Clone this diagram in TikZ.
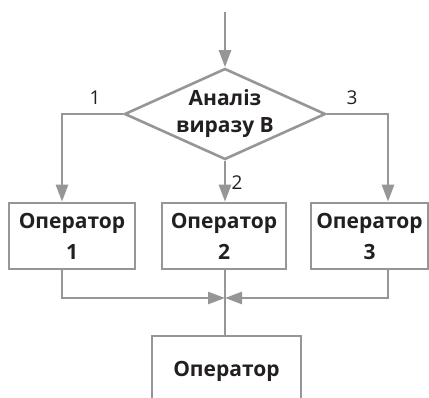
\documentclass[tikz,border=0pt]{standalone}
\usepackage{fontspec}
\setmainfont{Open Sans}
\usetikzlibrary{shapes.geometric,arrows.meta}
\definecolor{flowgray}{RGB}{150,150,152}
\definecolor{flowtext}{RGB}{35,31,32}
\tikzset{
  opbox/.style={draw=flowgray, rectangle, minimum height=66pt, align=center, inner sep=0pt,
    text=flowtext, font=\bfseries\fontsize{21}{31}\selectfont},
  decision/.style={draw=flowgray, diamond, minimum width=201pt, minimum height=91pt,
    inner sep=0pt},
  dectext/.style={align=center, inner sep=0pt, text=flowtext, font=\bfseries\fontsize{21}{27}\selectfont},
  branch/.style={text=flowtext, font=\fontsize{19}{22}\selectfont},
  flow/.style={draw=flowgray},
}
\begin{document}
\begin{tikzpicture}[x=1pt,y=-1pt,line width=2.6pt,>={Triangle[length=17pt,width=12pt]}]
  \useasboundingbox (0,0) rectangle (429,398);
  \clip (0,0) rectangle (429,398);
  \node[decision] (dec) at (225,114) {};
  \node[dectext] (dectxt) at (dec.center) {Аналіз\\виразу В};
  \node[opbox, minimum width=126pt] (op1) at (72,236) {Оператор\\1};
  \node[opbox, minimum width=124pt] (op2) at (224,236) {Оператор\\2};
  \node[opbox, minimum width=117pt] (op3) at (369.5,236) {Оператор\\3};
  \node[opbox, minimum width=149pt, minimum height=70pt] (opn) at (226.5,371) {Оператор};
  \coordinate (in) at (225,12);
  \coordinate (left) at (62,114);
  \coordinate (right) at (388,114);
  \coordinate (join) at (225,298);
  % branches
  \draw[flow,->] (in) -- (dec.north);
  \draw[flow,->] (dec.west) -- (left) -- (left |- op1.north);
  \draw[flow,->] (dec.south) -- (dec.south |- op2.north);
  \draw[flow,->] (dec.east) -- (right) -- (right |- op3.north);
  \node[branch] (l1) at (95,98) {1};
  \node[branch] (l2) at (237,183) {2};
  \node[branch] (l3) at (352,98) {3};
  % merge
  \draw[flow,->] (left |- op1.south) -- (left |- join) -- (join);
  \draw[flow,->] (right |- op3.south) -- (right |- join) -- (join);
  \draw[flow] (join |- op2.south) -- (join |- opn.north);
\end{tikzpicture}
\end{document}
